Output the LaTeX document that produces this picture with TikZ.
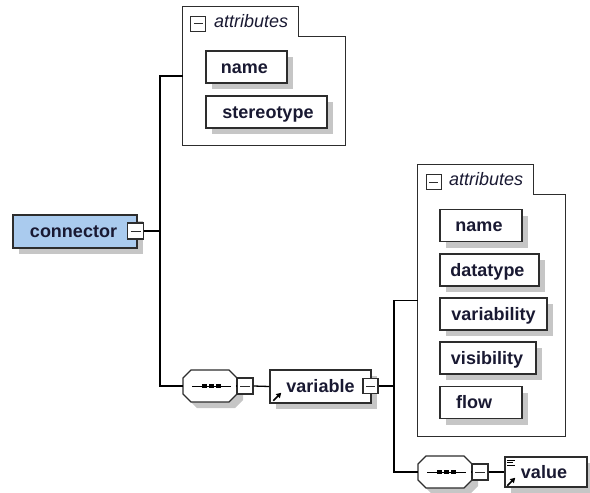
\documentclass[tikz,border=0pt]{standalone}
\usepackage{fontspec}
\setmainfont{Liberation Sans}
\usetikzlibrary{shadows,arrows.meta}
\definecolor{boxline}{RGB}{45,45,45}
\definecolor{shadowgray}{RGB}{198,198,198}
\definecolor{connfill}{RGB}{170,203,238}
\definecolor{txt}{RGB}{25,25,50}
\newcommand\seqsym[3]{%
 \begin{scope}[shift={(#2,#3)}]
  \fill[shadowgray] (-21,-2) -- (-13,-10) -- (25,-10) -- (33,-2) -- (33,14) -- (25,22) -- (-13,22) -- (-21,14) -- cycle;
  \draw[seqline] (-27,-8) -- (-19,-16) -- (19,-16) -- (27,-8) -- (27,8) -- (19,16) -- (-19,16) -- (-27,8) -- cycle;
  \node[seqfrm] (#1) at (0,0) {};
  \draw[line width=1pt] (-18,0) -- (21,0);
  \fill (-8.5,-2) rectangle (-3.5,2);
  \fill (-1.5,-2) rectangle (3.5,2);
  \fill (5.5,-2) rectangle (10.5,2);
 \end{scope}}
\begin{document}
\begin{tikzpicture}[x=1pt,y=-1pt,
  box/.style={draw=boxline, line width=1.4pt, fill=white,
    font=\fontsize{18}{20}\selectfont\bfseries, text=txt,
    minimum height=32pt, inner sep=0pt, text height=12pt, text depth=0pt,
    drop shadow={shadow xshift=6pt,shadow yshift=-6pt,fill=shadowgray,opacity=1}},
  minusbox/.style={draw=boxline, line width=1.1pt, fill=white, minimum size=15pt, inner sep=0pt,
    path picture={\draw[line width=1pt,boxline] ([xshift=3pt]path picture bounding box.west) -- ([xshift=-3pt]path picture bounding box.east);}},
  seqline/.style={draw=boxline, line width=1.2pt, fill=white},
  seqfrm/.style={rectangle, minimum width=54pt, minimum height=32pt, inner sep=0pt},
  grpfrm/.style={rectangle, inner sep=0pt},
  link/.style={line width=1.3pt, draw=black},
  grp/.style={draw=boxline, line width=1.3pt},
  grptitle/.style={font=\fontsize{18}{20}\selectfont\itshape, text=txt, anchor=west,
    inner sep=0pt, text height=12pt, text depth=0pt},
  icon/.style={line width=1.7pt, draw=black, -{Triangle[length=5pt,width=5.5pt]}}
]
\useasboundingbox (0,0) rectangle (590,493);

% root element
\node[box, fill=connfill, minimum width=124pt, minimum height=33pt] (conn) at (75,231.5) {\hspace*{-3pt}connector};
\node[minusbox, minimum size=16pt] (cmin) at (135.5,231) {};

% first attribute group
\node[grpfrm, minimum width=162pt, minimum height=138pt] (att1) at (264,76) {};
\draw[grp] (att1.north west) -- ++(116,0) -- ++(0,30) -| (att1.south east) -| (att1.north west) -- cycle;
\node[minusbox] (am1) at ([shift={(15.5,17)}]att1.north west) {};
\node[grptitle] (at1) at ([shift={(31,15)}]att1.north west) {attributes};
\node[box, minimum width=81pt] (name1) at (246.5,67) {\hspace*{-4pt}name};
\node[box, minimum width=121pt] (stereo) at (266.5,112) {\hspace*{3pt}stereotype};

% sequence 1 and variable
\seqsym{seq1}{210}{386}
\node[minusbox, minimum size=16pt] (sm1) at (245,386) {};
\node[box, minimum width=101pt, minimum height=33pt] (var) at (320.5,386.5) {\hspace*{0pt}variable};
\draw[icon] ([shift={(4,-3)}]var.south west) -- ++(8,-8);
\node[minusbox] (vmin) at (370.5,386) {};

% second attribute group
\node[grpfrm, minimum width=147pt, minimum height=271pt] (att2) at (491.5,300.5) {};
\draw[grp] (att2.north west) -- ++(116,0) -- ++(0,30) -| (att2.south east) -| (att2.north west) -- cycle;
\node[minusbox] (am2) at ([shift={(16,17.5)}]att2.north west) {};
\node[grptitle] (at2) at ([shift={(31,15)}]att2.north west) {attributes};
\node[box, minimum width=82pt] (name2) at (481,225.5) {\hspace*{-4pt}name};
\node[box, minimum width=99pt] (dtype) at (489.5,270) {\hspace*{-4pt}datatype};
\node[box, minimum width=107pt] (varia) at (493.5,314) {variability};
\node[box, minimum width=96pt] (visib) at (488,358) {\hspace*{-2pt}visibility};
\node[box, minimum width=82pt] (flow) at (481,402.5) {\hspace*{-14pt}flow};

% sequence 2 and value
\seqsym{seq2}{445}{472}
\node[minusbox, minimum size=16pt] (sm2) at (480,472) {};
\node[box, minimum width=82pt, minimum height=30pt] (val) at (546,472) {\hspace*{-4pt}value};
\draw[line width=1pt] ([shift={(3,4)}]val.north west) -- ++(8,0)
  ([shift={(3,6.5)}]val.north west) -- ++(6,0)
  ([shift={(3,9)}]val.north west) -- ++(8,0);
\draw[icon] ([shift={(3,-2)}]val.south west) -- ++(8,-8);

% connectors
\coordinate (j1) at (160,231);
\coordinate (j2) at (394,386);
\draw[link] (cmin.east) -- (j1);
\draw[link] (att1.west) -| (j1) |- (seq1.west);
\draw[link] (seq1.east) -- (sm1.west);
\draw[link] (sm1.east) -- (var.west);
\draw[link] (vmin.east) -- (j2);
\draw[link] (att2.west) -| (j2) |- (seq2.west);
\draw[link] (seq2.east) -- (sm2.west);
\draw[link] (sm2.east) -- (val.west);
\end{tikzpicture}
\end{document}
